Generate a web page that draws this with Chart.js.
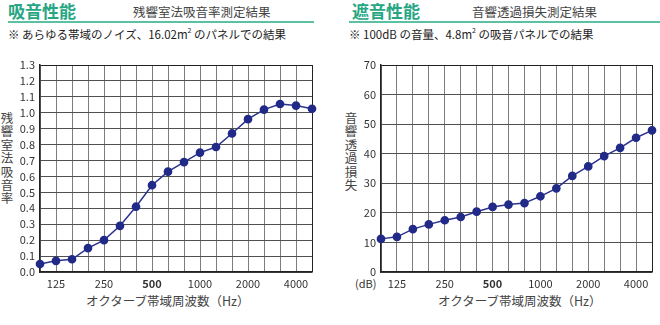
<!DOCTYPE html>
<html>
<head>
<meta charset="utf-8">
<script src="https://cdn.jsdelivr.net/npm/chart.js@4/dist/chart.umd.min.js"></script>
<style>
body{margin:0;width:660px;height:325px;background:#fff;position:relative;overflow:hidden;
  font-family:'Noto Sans CJK JP','Noto Sans',sans-serif;color:#333}
.abs{position:absolute;white-space:nowrap}
.h{font-size:17px;font-weight:bold;color:#27a683;top:1px;line-height:20px}
.sub{font-size:12.5px;top:4px;line-height:16px;color:#444}
.rule{height:2px;background:#5cc0a3;top:21px}
.note{font-size:11.5px;top:27px;line-height:15px;color:#222}
.note sup{font-size:7px;vertical-align:6px;line-height:0}
.vt{width:14px;top:111px;color:#444}
.vt span{display:block;height:13.4px;line-height:13.4px;font-size:12.5px;text-align:center}
.xt{font-size:12.5px;top:293px;line-height:16px;color:#444}
canvas{position:absolute;top:0}
</style>
</head>
<body>
<div class="abs h" style="left:8px">吸音性能</div>
<div class="abs sub" style="left:133px">残響室法吸音率測定結果</div>
<div class="abs rule" style="left:8px;width:306px"></div>
<div class="abs note" style="left:8px">※ あらゆる帯域のノイズ、16.02m<sup>2</sup> のパネルでの結果</div>

<div class="abs h" style="left:352px">遮音性能</div>
<div class="abs sub" style="left:472px">音響透過損失測定結果</div>
<div class="abs rule" style="left:349px;width:311px"></div>
<div class="abs note" style="left:349px">※ 100dB の音量、4.8m<sup>2</sup> の吸音パネルでの結果</div>

<div class="abs vt" style="left:0px"><span>残</span><span>響</span><span>室</span><span>法</span><span>吸</span><span>音</span><span>率</span></div>
<div class="abs vt" style="left:344px"><span>音</span><span>響</span><span>透</span><span>過</span><span>損</span><span>失</span></div>

<div class="abs xt" style="left:86px">オクターブ帯域周波数（Hz）</div>
<div class="abs xt" style="left:438px">オクターブ帯域周波数（Hz）</div>
<div class="abs" style="left:355px;top:275px;font-size:11px;color:#333">(dB)</div>

<canvas id="c1" width="330" height="325" style="left:0"></canvas>
<canvas id="c2" width="330" height="325" style="left:330px"></canvas>

<script>
// 1/3オクターブ帯域
var freqs = ['100','125','160','200','250','315','400','500','630','800','1000','1250','1600','2000','2500','3150','4000','5000'];
var shownFreqs = ['125','250','500','1000','2000','4000'];

// 残響室法吸音率
var absorption = [0.05,0.07,0.08,0.15,0.20,0.29,0.41,0.545,0.63,0.69,0.75,0.785,0.87,0.96,1.02,1.055,1.045,1.025];
// 音響透過損失 (dB)
var transLoss = [11.2,11.9,14.5,16.1,17.5,18.6,20.4,22.0,22.8,23.3,25.6,28.3,32.5,35.7,39.2,42.0,45.4,47.9];

var fam = "'Noto Sans CJK JP','Noto Sans',sans-serif";

function makeChart(id, values, yMin, yMax, yStep, decimals, yWidth, padRight){
  var ctx = document.getElementById(id);
  return new Chart(ctx, {
    type: 'line',
    data: {
      labels: freqs,
      datasets: [{
        data: values,
        borderColor: '#2b3290',
        borderWidth: 1.5,
        backgroundColor: '#222a88',
        pointBorderColor: '#222a88',
        pointRadius: 3.6,
        pointHoverRadius: 3.6,
        tension: 0,
        clip: false
      }]
    },
    options: {
      responsive: false,
      animation: false,
      events: [],
      layout: { padding: { top: 65, right: padRight, bottom: 0, left: 0 } },
      plugins: { legend: { display: false }, tooltip: { enabled: false } },
      scales: {
        x: {
          type: 'category',
          offset: false,
          afterFit: function(s){ s.height = 53; },
          grid: {
            offset: false,
            drawTicks: false,
            lineWidth: 1,
            color: function(c){ return c.index === freqs.length - 1 ? '#222' : '#7c7c7c'; }
          },
          border: { color: '#222', width: 1.5 },
          ticks: {
            autoSkip: false,
            maxRotation: 0,
            padding: 5,
            color: '#333',
            font: function(c){
              return { family: fam, size: 11, weight: freqs[c.index] === '500' ? 'bold' : 'normal' };
            },
            callback: function(v, i){
              var f = freqs[i];
              return shownFreqs.indexOf(f) >= 0 ? f : '';
            }
          }
        },
        y: {
          min: yMin,
          max: yMax,
          afterFit: function(s){ s.width = yWidth; },
          grid: {
            drawTicks: false,
            lineWidth: 1,
            color: function(c){ return c.index === c.scale.ticks.length - 1 ? '#222' : '#505050'; }
          },
          border: { color: '#222', width: 1.5 },
          ticks: {
            stepSize: yStep,
            maxTicksLimit: 30,
            autoSkip: false,
            padding: 5,
            color: '#333',
            font: { family: fam, size: 11 },
            callback: function(v){ return Number(v).toFixed(decimals); }
          }
        }
      }
    }
  });
}

makeChart('c1', absorption, 0, 1.3, 0.1, 1, 40, 18);
makeChart('c2', transLoss, 0, 70, 10, 0, 51, 8);
</script>
</body>
</html>
